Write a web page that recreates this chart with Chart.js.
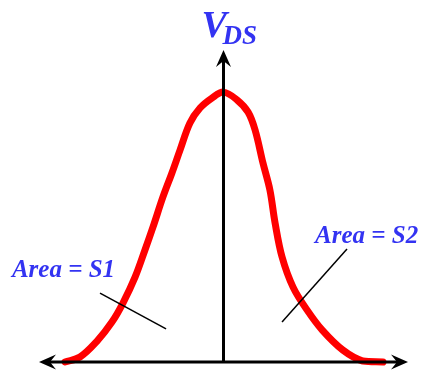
<!DOCTYPE html>
<html>
<head>
<meta charset="utf-8">
<script src="https://cdn.jsdelivr.net/npm/chart.js@4/dist/chart.umd.min.js"></script>
<style>
  html, body { margin: 0; padding: 0; background: #fff; }
</style>
</head>
<body>
<canvas id="pulseChart" width="422" height="379"></canvas>
<script>
// V_DS pulse samples (x = time, y = amplitude)
const t   = [-86.4, -78.2, -68.9, -60.8, -54.8, -48.2, -42.8, -38.4, -33.0, -28.1, -23.7, -18.3, -12.8, -6.3, 0,
             7.4, 13.4, 17.2, 21.5, 25.3, 28.1, 31.9, 37.9, 45.5, 53.7, 65.1, 76.0, 86.9];
const vds = [0, 1.6, 6.7, 12.8, 18.9, 27.2, 35.9, 43.3, 52.9, 60.6, 67.9, 76.6, 81.4, 84.6, 86.5,
             84.0, 80.1, 74.4, 63.8, 55.1, 44.6, 33.7, 24.0, 16.7, 10.3, 3.8, 0.3, 0];

// area labels with their pointer lines (data units)
const areaText  = ['Area = S1', 'Area = S2'];
const areaAt    = [[-115.3, 27.2], [49.9, 38.1]];
const areaLines = [[[-67.3, 22.1], [-31.3, 10.6]], [[67.3, 36.2], [31.9, 12.8]]];

const BLUE = '#3333f2';

// notched arrow head pointing along (dx, dy)
function arrowHead(ctx, x, y, dx, dy) {
    const len = 17, half = 7.5, notch = 11;
    const px = -dy, py = dx;
    ctx.beginPath();
    ctx.moveTo(x, y);
    ctx.lineTo(x - dx * len + px * half, y - dy * len + py * half);
    ctx.lineTo(x - dx * notch, y - dy * notch);
    ctx.lineTo(x - dx * len - px * half, y - dy * len - py * half);
    ctx.closePath();
    ctx.fill();
}

const axesPlugin = {
    id: 'axes',
    afterDatasetsDraw(chart) {
        const { ctx, chartArea: a, scales: { x, y } } = chart;
        const x0 = x.getPixelForValue(0);
        const y0 = y.getPixelForValue(0);
        ctx.save();
        ctx.strokeStyle = '#000';
        ctx.fillStyle = '#000';
        ctx.lineWidth = 3;
        // horizontal axis, arrows both ends
        ctx.beginPath();
        ctx.moveTo(a.left + 10, y0);
        ctx.lineTo(a.right - 10, y0);
        ctx.stroke();
        arrowHead(ctx, a.left - 1, y0, -1, 0);
        arrowHead(ctx, a.right + 1, y0, 1, 0);
        // vertical axis
        ctx.beginPath();
        ctx.moveTo(x0, y0);
        ctx.lineTo(x0, a.top + 10);
        ctx.stroke();
        arrowHead(ctx, x0, a.top, 0, -1);

        // pointer lines
        ctx.lineWidth = 1.5;
        areaLines.forEach(([p, q]) => {
            ctx.beginPath();
            ctx.moveTo(x.getPixelForValue(p[0]), y.getPixelForValue(p[1]));
            ctx.lineTo(x.getPixelForValue(q[0]), y.getPixelForValue(q[1]));
            ctx.stroke();
        });

        // area labels
        ctx.fillStyle = BLUE;
        ctx.font = 'italic bold 25px "Liberation Serif", serif';
        ctx.textBaseline = 'alphabetic';
        areaText.forEach((s, i) => {
            ctx.fillText(s, x.getPixelForValue(areaAt[i][0]), y.getPixelForValue(areaAt[i][1]));
        });

        // axis title V_DS
        ctx.font = 'italic bold 38px "Liberation Serif", serif';
        const vx = x0 - 22;
        ctx.fillText('V', vx, 37);
        ctx.font = 'italic bold 27px "Liberation Serif", serif';
        ctx.fillText('DS', vx + 21, 44);
        ctx.restore();
    }
};

new Chart(document.getElementById('pulseChart'), {
    type: 'line',
    data: {
        datasets: [{
            data: t.map((v, i) => ({ x: v, y: vds[i] })),
            borderColor: '#ff0000',
            borderWidth: 7,
            borderCapStyle: 'round',
            borderJoinStyle: 'round',
            pointRadius: 0,
            tension: 0.35,
            fill: false,
            clip: false
        }]
    },
    options: {
        responsive: false,
        animation: false,
        devicePixelRatio: 1,
        layout: { padding: { left: 40, right: 15, top: 50, bottom: 17 } },
        plugins: { legend: { display: false }, tooltip: { enabled: false } },
        scales: {
            x: { type: 'linear', min: -100, max: 100, display: false },
            y: { min: 0, max: 100, display: false }
        }
    },
    plugins: [axesPlugin]
});
</script>
</body>
</html>
